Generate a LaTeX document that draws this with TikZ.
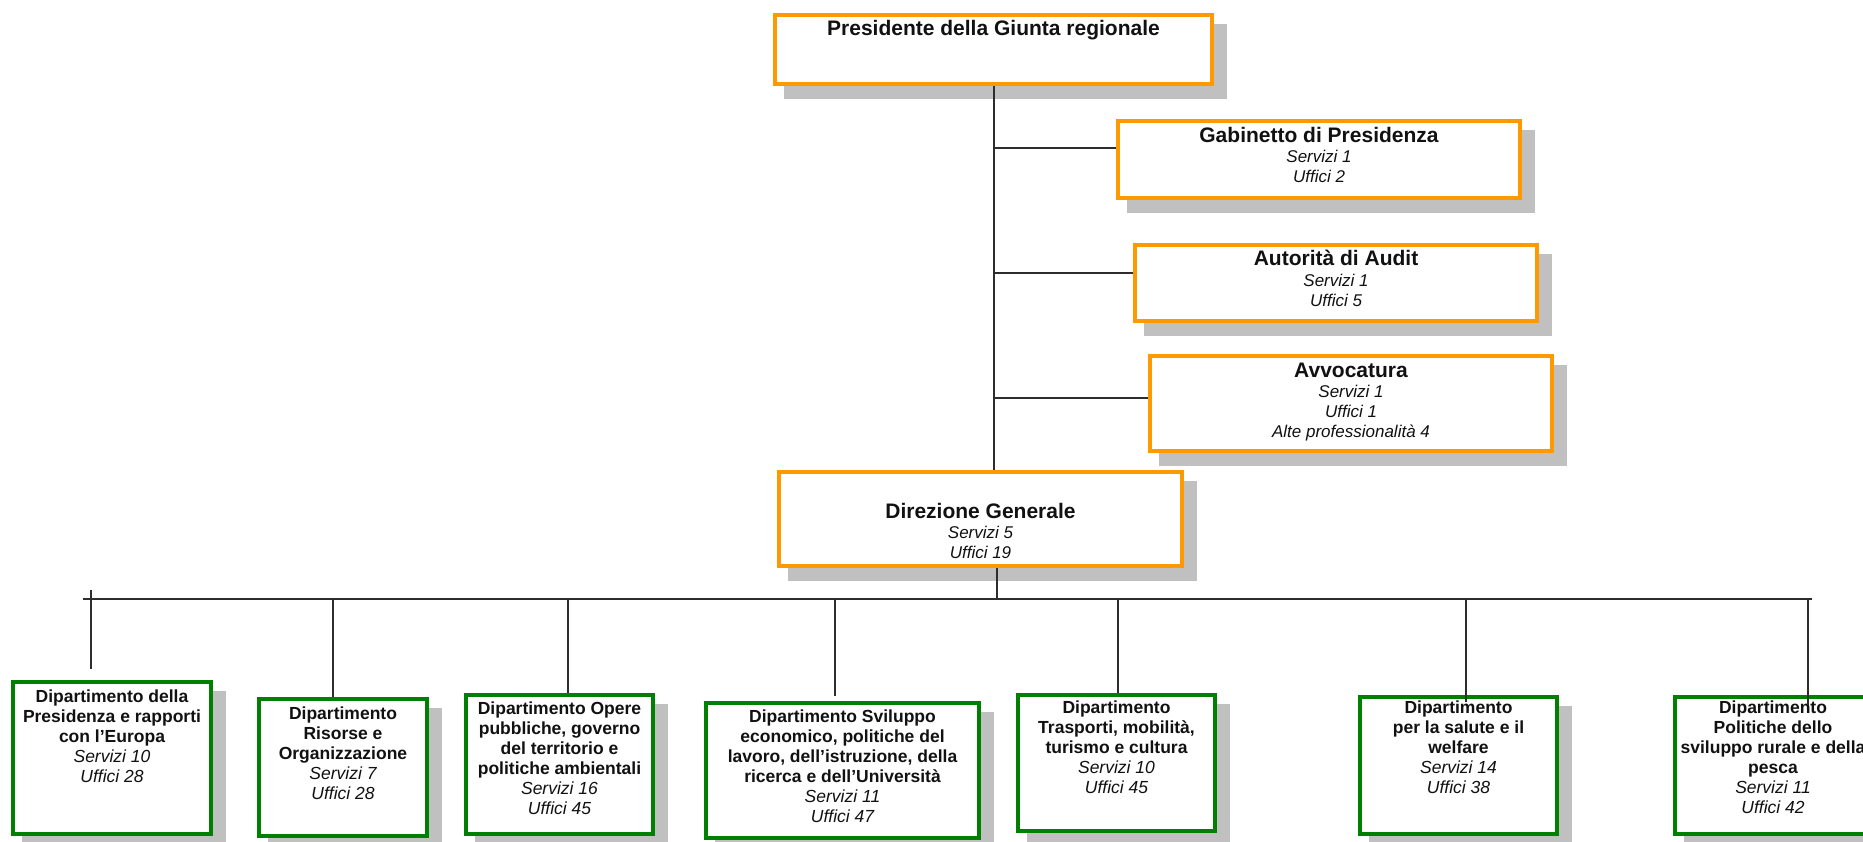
\documentclass[tikz,border=0pt]{standalone}
\usepackage{fontspec}
\setmainfont{Liberation Sans}
\usetikzlibrary{shadows}

\definecolor{boxorange}{RGB}{255,153,0}
\definecolor{boxgreen}{RGB}{0,128,0}
\definecolor{shadowgray}{RGB}{192,192,192}
\definecolor{linegray}{RGB}{45,45,45}
\definecolor{inkblack}{RGB}{17,17,17}

% italic counters: larger boxes use a smaller size than the bold title
\newcommand{\topcount}[1]{{\fontsize{17}{20}\selectfont\mdseries\itshape #1}}
\newcommand{\deptcount}[1]{{\mdseries\itshape #1}}

% text blocks are anchored on the baseline of their last line
\tikzset{
  frame/.style={draw, line width=4pt, fill=white, inner sep=0pt,
    drop shadow={shadow xshift=12pt, shadow yshift=-12pt,
      fill=shadowgray, draw=shadowgray, line width=6pt, opacity=1}},
  topbox/.style={frame, draw=boxorange},
  deptbox/.style={frame, draw=boxgreen},
  wire/.style={draw=linegray, line width=1.3pt},
  toptext/.style={anchor=base, align=center, inner sep=0pt, text=inkblack,
    font=\fontsize{21}{20}\selectfont\bfseries},
  depttext/.style={anchor=base, align=center, inner sep=0pt, text=inkblack,
    font=\fontsize{17.5}{20}\selectfont\bfseries},
}

\begin{document}
\begin{tikzpicture}[x=1pt, y=-1pt]
\useasboundingbox (0,0) rectangle (1863,842);

% ---- upper level: presidency and its staff offices ----
\node[topbox, minimum width=437pt, minimum height=69pt] (pres) at (993.5,49.5) {};
\node[topbox, minimum width=402pt, minimum height=77pt] (gab)  at (1319,159.5) {};
\node[topbox, minimum width=402pt, minimum height=76pt] (aud)  at (1336,283) {};
\node[topbox, minimum width=402pt, minimum height=95pt] (avv)  at (1351,403.5) {};
\node[topbox, minimum width=403pt, minimum height=94pt] (dir)  at (980.5,519) {};

\node[toptext] (presT) at (993.5,36) {Presidente della Giunta regionale};
\node[toptext] (gabT) at (1319,183) {Gabinetto di Presidenza\\ \topcount{Servizi 1}\\ \topcount{Uffici 2}};
\node[toptext] (audT) at (1336,306) {Autorità di Audit\\ \topcount{Servizi 1}\\ \topcount{Uffici 5}};
\node[toptext] (avvT) at (1351,437) {Avvocatura\\ \topcount{Servizi 1}\\ \topcount{Uffici 1}\\ \topcount{Alte professionalità 4}};
\node[toptext] (dirT) at (980.5,558) {Direzione Generale\\ \topcount{Servizi 5}\\ \topcount{Uffici 19}};

% ---- departments ----
\node[deptbox, minimum width=198pt, minimum height=152pt] (d1) at (112,758) {};
\node[deptbox, minimum width=168pt, minimum height=137pt] (d2) at (343,767.5) {};
\node[deptbox, minimum width=187pt, minimum height=139pt] (d3) at (559.5,764.5) {};
\node[deptbox, minimum width=273pt, minimum height=135pt] (d4) at (842.5,770.5) {};
\node[deptbox, minimum width=197pt, minimum height=136pt] (d5) at (1116.5,763) {};
\node[deptbox, minimum width=197pt, minimum height=137pt] (d6) at (1458.5,765.5) {};
\node[deptbox, minimum width=196pt, minimum height=137pt] (d7) at (1773,765.5) {};

\node[depttext] (d1T) at (112,782) {Dipartimento della\\ Presidenza e rapporti\\ con l’Europa\\ \deptcount{Servizi 10}\\ \deptcount{Uffici 28}};
\node[depttext] (d2T) at (343,799) {Dipartimento\\ Risorse e\\ Organizzazione\\ \deptcount{Servizi 7}\\ \deptcount{Uffici 28}};
\node[depttext] (d3T) at (559.5,814) {Dipartimento Opere\\ pubbliche, governo\\ del territorio e\\ politiche ambientali\\ \deptcount{Servizi 16}\\ \deptcount{Uffici 45}};
\node[depttext] (d4T) at (842.5,822) {Dipartimento Sviluppo\\ economico, politiche del\\ lavoro, dell’istruzione, della\\ ricerca e dell’Università\\ \deptcount{Servizi 11}\\ \deptcount{Uffici 47}};
\node[depttext] (d5T) at (1116.5,793) {Dipartimento\\ Trasporti, mobilità,\\ turismo e cultura\\ \deptcount{Servizi 10}\\ \deptcount{Uffici 45}};
\node[depttext] (d6T) at (1458.5,793) {Dipartimento\\ per la salute e il\\ welfare\\ \deptcount{Servizi 14}\\ \deptcount{Uffici 38}};
\node[depttext] (d7T) at (1773,813) {Dipartimento\\ Politiche dello\\ sviluppo rurale e della\\ pesca\\ \deptcount{Servizi 11}\\ \deptcount{Uffici 42}};

% ---- connectors ----
\coordinate (T) at (994,0);
\coordinate (D) at (997,0);
\draw[wire] (pres.south -| T) -- (dir.north -| T);
\draw[wire] ([yshift=11.5pt]gab.west -| T) -- ([yshift=11.5pt]gab.west);
\draw[wire] ([yshift=10pt]aud.west -| T) -- ([yshift=10pt]aud.west);
\draw[wire] ([yshift=5.5pt]avv.west -| T) -- ([yshift=5.5pt]avv.west);

\coordinate (busL) at (83,599);
\coordinate (busR) at (1812,599);
\draw[wire] (busL) -- (busR);
\draw[wire] (dir.south -| D) -- (D |- busL);

\coordinate (j1) at (91,590);
\coordinate (j2) at (333,599);
\coordinate (j3) at (568,599);
\coordinate (j4) at (835,599);
\coordinate (j5) at (1118,599);
\coordinate (j6) at (1466,599);
\coordinate (j7) at (1808,599);
\draw[wire] (j1) -- ([yshift=11pt]j1 |- d1.north);
\draw[wire] (j2) -- (j2 |- d2.north);
\draw[wire] (j3) -- (j3 |- d3.north);
\draw[wire] (j4) -- ([yshift=5pt]j4 |- d4.north);
\draw[wire] (j5) -- (j5 |- d5.north);
\draw[wire] (j6) -- ([yshift=-7pt]j6 |- d6.north);
\draw[wire] (j7) -- ([yshift=-10pt]j7 |- d7.north);
\end{tikzpicture}
\end{document}
